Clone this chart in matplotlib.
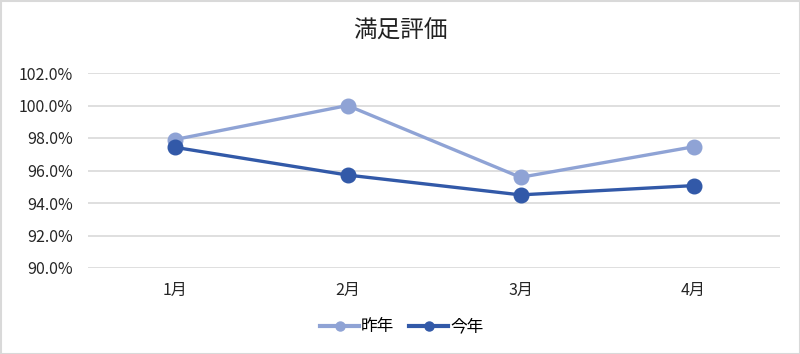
import matplotlib
matplotlib.use("Agg")
import matplotlib.pyplot as plt
from matplotlib.patches import Rectangle
from matplotlib.ticker import FuncFormatter, MultipleLocator

plt.rcParams['font.family'] = ['Noto Sans CJK JP', 'DejaVu Sans']

categories = ['1月', '2月', '3月', '4月']
last_year = [97.9, 100.0, 95.58, 97.46]
this_year = [97.43, 95.72, 94.5, 95.07]
series_names = ['昨年', '今年']
title = '満足評価'

fig = plt.figure(figsize=(8.0, 3.54), dpi=100)
ax = fig.add_axes([88/800, 86/354, 692/800, 195/354])

x = list(range(len(categories)))
c_last = '#8FA3D5'
c_this = '#3259A8'
ax.plot(x, last_year, color=c_last, lw=2.4, marker='o', ms=10.5, label=series_names[0], zorder=3)
ax.plot(x, this_year, color=c_this, lw=2.4, marker='o', ms=10.5, label=series_names[1], zorder=4)

ax.set_xlim(-0.5, len(categories) - 0.5)
ax.set_ylim(90, 102)
ax.yaxis.set_major_locator(MultipleLocator(2))
ax.yaxis.set_major_formatter(FuncFormatter(lambda v, p: f'{v:.1f}%'))
ax.set_xticks(x)
ax.set_xticklabels(categories)
ax.grid(axis='y', color='#D9D9D9', lw=1.2)
ax.set_axisbelow(True)
for s in ax.spines.values():
    s.set_visible(False)
ax.tick_params(axis='both', length=0, labelsize=11.5, labelcolor='#262626')
ax.tick_params(axis='x', pad=10)
ax.tick_params(axis='y', pad=11)

fig.text(0.5, (354-31)/354, title, ha='center', va='center', fontsize=17, color='#222222')

leg = fig.legend(loc='center', bbox_to_anchor=(402/800, (354-327)/354), ncol=2, frameon=False,
                 fontsize=12, handlelength=2.3, columnspacing=0.9, handletextpad=0.15)
for h in leg.legend_handles:
    h.set_markersize(6.5)
    h.set_linewidth(3)

fig.patches.append(Rectangle((0.5/800, 0.5/354), 1 - 1/800, 1 - 1/354, transform=fig.transFigure,
                             fill=False, edgecolor='#D9D9D9', lw=1.5))

fig.savefig('out.png', dpi=100, facecolor='white')
